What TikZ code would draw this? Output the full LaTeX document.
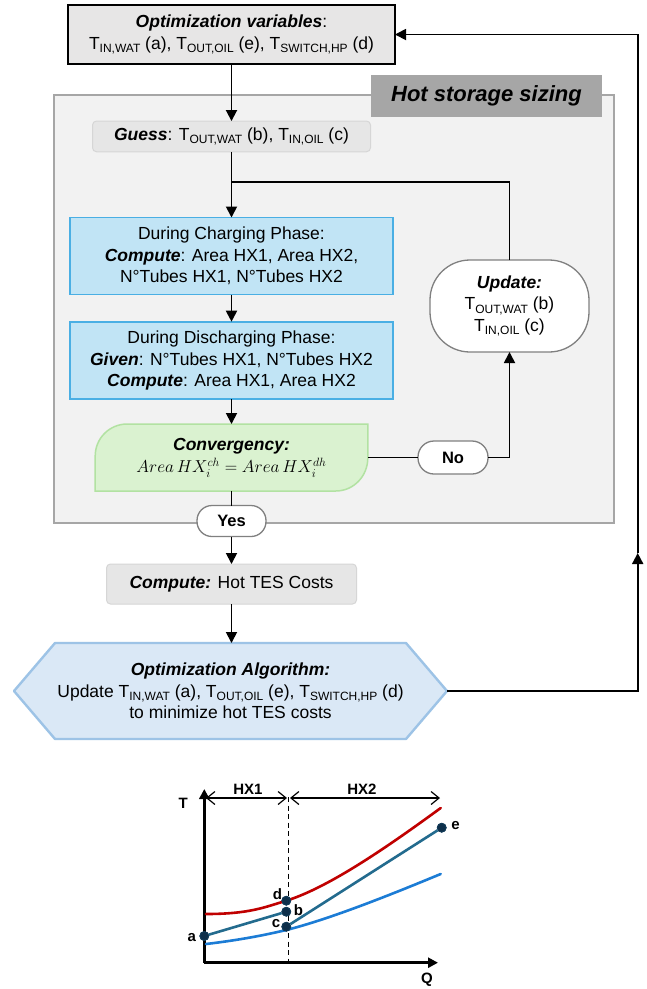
\documentclass[tikz,border=0pt]{standalone}
\usepackage{fontspec}
\setmainfont{Liberation Sans}
\usetikzlibrary{arrows.meta}
\definecolor{topgray}{HTML}{E7E6E6}
\definecolor{outerfill}{HTML}{F2F2F2}
\definecolor{outerdraw}{HTML}{A6A6A6}
\definecolor{labgray}{HTML}{A6A6A6}
\definecolor{guessfill}{HTML}{E6E6E6}
\definecolor{guessdraw}{HTML}{D6D6D6}
\definecolor{bluefill}{HTML}{C1E4F5}
\definecolor{bluedraw}{HTML}{4AAFE4}
\definecolor{greenfill}{HTML}{DAF2D0}
\definecolor{greendraw}{HTML}{B2E2A2}
\definecolor{nodedraw}{HTML}{808080}
\definecolor{hexfill}{HTML}{DAE8F6}
\definecolor{hexdraw}{HTML}{9DC3E6}
\definecolor{cred}{HTML}{C00000}
\definecolor{cteal}{HTML}{236B8E}
\definecolor{cblue}{HTML}{1C7CD5}
\definecolor{cdot}{HTML}{0E2F4A}
\newcommand{\sbs}[1]{\raisebox{-0.2em}{\fontsize{12}{12}\selectfont #1}}
\newcommand{\bi}[1]{\textbf{\textit{#1}}}
\begin{document}
\begin{tikzpicture}[x=1pt,y=-1pt,
  body/.style={font=\fontsize{17.5}{21.5}\selectfont, align=center, inner sep=0pt, outer sep=0pt},
  topbox/.style={body, draw=black, line width=1.8pt, fill=topgray},
  outerbox/.style={draw=outerdraw, line width=2.5pt, fill=outerfill, inner sep=0pt, outer sep=0pt},
  hsslabel/.style={fill=labgray, inner sep=0pt, outer sep=0pt, font=\fontsize{22}{26}\selectfont\bfseries\itshape},
  greybox/.style={body, draw=guessdraw, line width=1pt, fill=guessfill, rounded corners=4pt},
  bluebox/.style={body, draw=bluedraw, line width=1.8pt, fill=bluefill},
  pill/.style={body, draw=nodedraw, line width=1.3pt, fill=white},
  conn/.style={line width=1.8pt, draw=black},
  arr/.style={conn, -{Triangle[length=11pt,width=11pt]}},
  curve/.style={line width=2.6pt, line cap=round},
  dotnode/.style={circle, fill=cdot, draw=cdot!80!cteal, line width=0.9pt, minimum size=8.8pt, inner sep=0pt},
  glabel/.style={font=\fontsize{15}{15}\selectfont\bfseries, inner sep=0pt}
]
\useasboundingbox (0,0) rectangle (647,989);
\fill[white] (0,0) rectangle (647,989);

% ---------- Hot storage sizing frame ----------
\node[outerbox, minimum width=560pt, minimum height=428pt] (outer) at (334,309) {};
\node[hsslabel, minimum width=231pt, minimum height=42pt] (hss) at (486.5,96) {Hot storage sizing};

% ---------- nodes ----------
\node[topbox, minimum width=327pt, minimum height=59pt] (top) at (231.5,34.5)
  {\bi{Optimization variables}:\\ T\sbs{IN,WAT} (a), T\sbs{OUT,OIL} (e), T\sbs{SWITCH,HP} (d)};

\node[greybox, minimum width=278pt, minimum height=30.7pt] (guess) at (231.5,136.4)
  {\bi{Guess}: T\sbs{OUT,WAT} (b), T\sbs{IN,OIL} (c)};

\node[bluebox, minimum width=323pt, minimum height=77pt] (chg) at (231.5,256)
  {During Charging Phase:\\ \bi{Compute}: Area HX1, Area HX2,\\ N°Tubes HX1, N°Tubes HX2};

\node[bluebox, minimum width=323pt, minimum height=77.6pt] (dis) at (231.5,360.5)
  {During Discharging Phase:\\ \bi{Given}: N°Tubes HX1, N°Tubes HX2\\ \bi{Compute}: Area HX1, Area HX2};

% convergency shape
\filldraw[fill=greenfill, draw=greendraw, line width=1.5pt]
  (95.2,491) -- (95.2,456) .. controls (95.2,438.3) and (109.5,424) .. (127.2,424)
  -- (367.8,424) -- (367.8,458) .. controls (367.8,476.2) and (353.5,491) .. (335.8,491) -- cycle;
\node[body, minimum width=272.6pt, minimum height=67pt] (conv) at (231.5,457.5)
  {\bi{Convergency:}\\[1pt] $Area\,HX_i^{ch} = Area\,HX_i^{dh}$};

\node[pill, rounded corners=16pt, minimum width=70pt, minimum height=33pt,
      font=\fontsize{16.5}{20}\selectfont\bfseries] (no) at (453,457.5) {No};

\node[pill, rounded corners=40pt, minimum width=159pt, minimum height=92pt] (upd) at (509.5,306)
  {\bi{Update:}\\ T\sbs{OUT,WAT} (b)\\ T\sbs{IN,OIL} (c)};

\node[pill, rounded corners=15pt, minimum width=69pt, minimum height=31pt,
      font=\fontsize{16.5}{20}\selectfont\bfseries] (yes) at (231.5,521) {Yes};

\node[greybox, minimum width=250pt, minimum height=40pt] (comp) at (231.5,584)
  {\bi{Compute:} Hot TES Costs};

% hexagon
\filldraw[fill=hexfill, draw=hexdraw, line width=2.4pt, line join=round]
  (14,691) -- (55,643) -- (406,643) -- (447,691) -- (406,739) -- (55,739) -- cycle;
\node[body, minimum width=433pt, minimum height=96pt] (hex) at (230.5,691)
  {\bi{Optimization Algorithm:}\\ Update T\sbs{IN,WAT} (a), T\sbs{OUT,OIL} (e), T\sbs{SWITCH,HP} (d)\\ to minimize hot TES costs};

% ---------- connectors ----------
\coordinate (jn) at (231.5,181.7);
\coordinate (noturn) at (509.5,457.5);
\coordinate (fbA) at (637.7,691);
\coordinate (fbM) at (637.7,553);
\coordinate (fbB) at (637.7,34.5);

\draw[arr] (top.south) -- (guess.north);
\draw[arr] (guess.south) -- (chg.north);
\draw[conn] (upd.north) |- (jn);
\draw[arr] (chg.south) -- (dis.north);
\draw[arr] (dis.south) -- (conv.north);
\draw[conn] (conv.east) -- (no.west);
\draw[arr] (no.east) -- (noturn) -- (upd.south);
\draw[conn] (conv.south) -- (yes.north);
\draw[arr] (yes.south) -- (comp.north);
\draw[arr] (comp.south) -- (comp.south |- hex.north);
\draw[arr] (hex.east) -- (fbA) -- (fbM);
\draw[arr] (fbM) -- (fbB) -- (top.east);

% ---------- T-Q diagram ----------
\coordinate (O) at (204.3,962.7);
\coordinate (Ytip) at (204.3,789);
\coordinate (Xtip) at (438,962.7);
\coordinate (dtop) at (288.5,797);
\coordinate (dbot) at (288.5,962.7);
\coordinate (h1a) at (206,798);
\coordinate (h1b) at (287,798);
\coordinate (h2a) at (290,798);
\coordinate (h2b) at (440,798);

\draw[line width=1.3pt, dash pattern=on 5pt off 3.5pt] (dtop) -- (dbot);
\draw[line width=2.6pt, -{Triangle[length=10pt,width=10pt]}] (O) -- (Ytip);
\draw[line width=2.6pt, -{Triangle[length=10pt,width=10pt]}] (O) -- (Xtip);
\draw[line width=1.2pt, {Straight Barb[length=8pt,width=13pt]}-{Straight Barb[length=8pt,width=13pt]}] (h1a) -- (h1b);
\draw[line width=1.2pt, {Straight Barb[length=8pt,width=13pt]}-{Straight Barb[length=8pt,width=13pt]}] (h2a) -- (h2b);

\node[glabel] (lT) at (183.3,803) {T};
\node[glabel] (lQ) at (427,980) {Q};
\node[glabel] (lh1) at (248,789) {HX1};
\node[glabel] (lh2) at (362,789) {HX2};

% curves
\draw[curve, cred] (206,914) .. controls (250,914) and (265,907) .. (286.3,900.7)
  .. controls (330,887) and (390,845) .. (440.7,808);
\draw[curve, cblue] (206,944) .. controls (240,940) and (265,935) .. (286.3,930)
  .. controls (330,919) and (390,895) .. (440.7,874);

\node[dotnode] (pa) at (204.3,936) {};
\node[dotnode] (pb) at (286.3,911.7) {};
\node[dotnode] (pc) at (286.3,926.7) {};
\node[dotnode] (pd) at (286.3,900.7) {};
\node[dotnode] (pe) at (441.7,827.7) {};

\draw[curve, cteal, line cap=butt] (pa) -- (pb);
\draw[curve, cteal, line cap=butt] (pc) -- (pe);

\node[dotnode] at (pa) {};
\node[dotnode] at (pb) {};
\node[dotnode] at (pc) {};
\node[dotnode] at (pd) {};
\node[dotnode] at (pe) {};

\node[glabel] (la) at (191.7,937.5) {a};
\node[glabel] (lb) at (298.5,910.5) {b};
\node[glabel] (lc) at (276,923.5) {c};
\node[glabel] (ld) at (277.5,894.5) {d};
\node[glabel] (le) at (455.5,825.5) {e};
\end{tikzpicture}
\end{document}
